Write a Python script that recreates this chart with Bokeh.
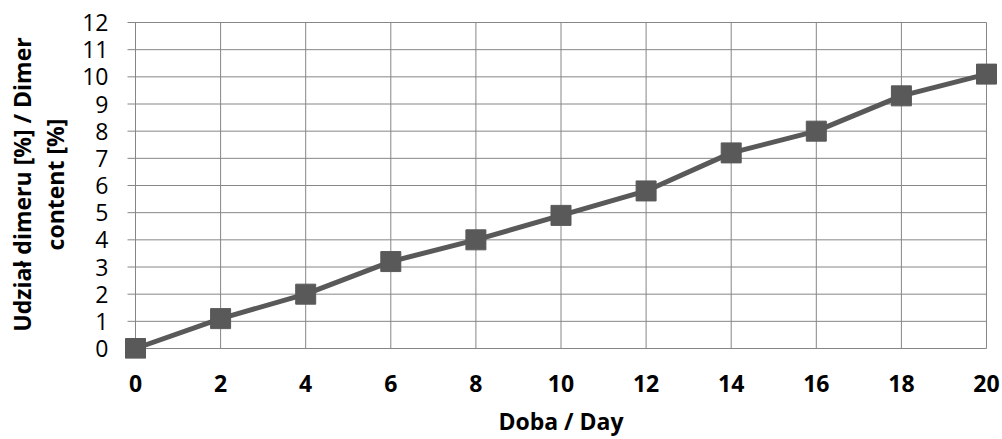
from bokeh.plotting import figure
from bokeh.models import Range1d, FixedTicker
from bokeh.embed import file_html
from bokeh.resources import INLINE

days = [0, 2, 4, 6, 8, 10, 12, 14, 16, 18, 20]
dimer = [0.0, 1.1, 2.0, 3.2, 4.0, 4.9, 5.8, 7.2, 8.0, 9.3, 10.1]
x_ticks = [0, 2, 4, 6, 8, 10, 12, 14, 16, 18, 20]
y_ticks = list(range(0, 13))
x_title = "Doba / Day"
y_title = "Udział dimeru [%] / Dimer\ncontent [%]"

FONT = "Open Sans"
GRID = "#868686"
SERIES = "#595959"

# plot-area geometry (pixels) and small padding so end markers are not clipped
X0, X1 = x_ticks[0], x_ticks[-1]
Y0, Y1 = y_ticks[0], y_ticks[-1]
AREA_W, AREA_H = 851.0, 326.0
PX_X = (X1 - X0) / AREA_W
PX_Y = (Y1 - Y0) / AREA_H
PAD_L, PAD_R, PAD_T, PAD_B = 12, 12, 12, 10
TICK_LEN = 8

W, H = 1002, 439
p = figure(width=W, height=H, output_backend="svg", toolbar_location=None,
           x_range=Range1d(X0 - PAD_L * PX_X, X1 + PAD_R * PX_X),
           y_range=Range1d(Y0 - PAD_B * PX_Y, Y1 + PAD_T * PX_Y),
           min_border_left=135 - PAD_L, min_border_right=W - 986 - PAD_R,
           min_border_top=22 - PAD_T, min_border_bottom=H - 348 - PAD_B)
p.outline_line_color = None
p.xgrid.grid_line_color = None
p.ygrid.grid_line_color = None

# grid lines and y tick marks drawn within the 0..20 / 0..12 plot area
p.segment(x0=x_ticks, y0=[Y0] * len(x_ticks), x1=x_ticks, y1=[Y1] * len(x_ticks),
          line_color=GRID, line_width=1)
p.segment(x0=[X0 - TICK_LEN * PX_X] * len(y_ticks), y0=y_ticks,
          x1=[X1] * len(y_ticks), y1=y_ticks, line_color=GRID, line_width=1)

p.xaxis.ticker = FixedTicker(ticks=x_ticks)
p.yaxis.ticker = FixedTicker(ticks=y_ticks)
for ax in (p.xaxis, p.yaxis):
    ax.axis_line_color = None
    ax.major_tick_line_color = None
    ax.minor_tick_line_color = None
    ax.major_tick_out = 0
    ax.major_tick_in = 0

p.xaxis.major_label_text_font = FONT
p.xaxis.major_label_text_font_style = "bold"
p.xaxis.major_label_text_font_size = "23px"
p.xaxis.major_label_text_color = "black"
p.xaxis.major_label_standoff = 16

p.yaxis.major_label_text_font = FONT
p.yaxis.major_label_text_font_size = "23px"
p.yaxis.major_label_text_color = "black"
p.yaxis.major_label_standoff = 15

p.xaxis.axis_label = x_title
p.xaxis.axis_label_text_font = FONT
p.xaxis.axis_label_text_font_style = "bold"
p.xaxis.axis_label_text_font_size = "23px"
p.xaxis.axis_label_text_color = "black"
p.xaxis.axis_label_standoff = 10

p.yaxis.axis_label = y_title
p.yaxis.axis_label_text_font = FONT
p.yaxis.axis_label_text_font_style = "bold"
p.yaxis.axis_label_text_font_size = "23px"
p.yaxis.axis_label_text_line_height = 1.05
p.yaxis.axis_label_text_color = "black"
p.yaxis.axis_label_standoff = 8

p.line(days, dimer, line_color=SERIES, line_width=5)
p.scatter(days, dimer, marker="square", size=20, fill_color=SERIES, line_color=SERIES)

open("out.html", "w").write(file_html(p, INLINE))
